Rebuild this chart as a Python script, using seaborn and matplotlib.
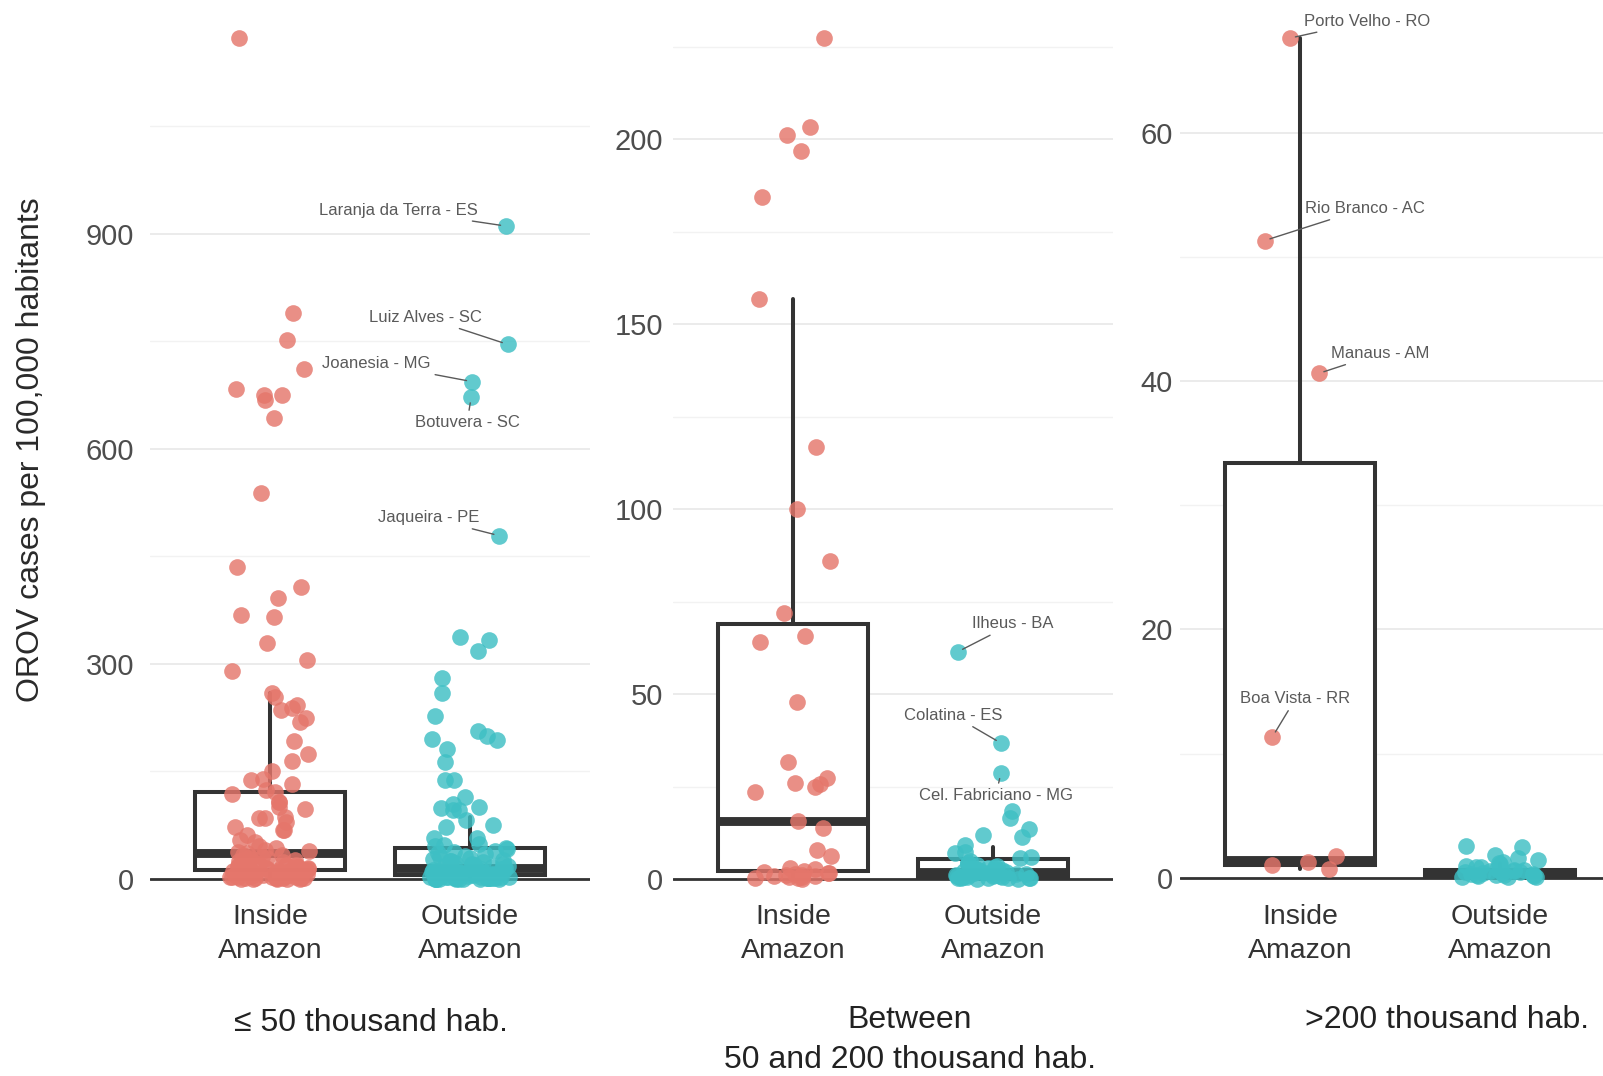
import numpy as np
import pandas as pd
import matplotlib
matplotlib.use("Agg")
import matplotlib.pyplot as plt
import seaborn as sns

sns.set_theme(style="white")
plt.rcParams["font.family"] = ["Liberation Sans", "DejaVu Sans"]

# ---------------------------------------------------------------- data
regions = ["Inside\nAmazon", "Outside\nAmazon"]
size_classes = ["\u2264 50 thousand hab.",
                "Between\n50 and 200 thousand hab.",
                ">200 thousand hab."]

# OROV incidence (cases per 100,000) by municipality
small_inside = [643, 752, 392, 366, 676, 676, 669, 408, 306, 539, 790, 260, 254,
                712, 684, 436, 290, 243, 239, 219, 175, 193, 329, 164, 1174, 236,
                369, 224, 151, 140, 138, 133, 124, 122, 118, 108, 108, 100, 98,
                87, 85, 85, 80, 73, 68, 68, 61, 54, 52,
                46.2, 43.5, 41.0, 38.7, 37.1, 35.6, 33.9, 32.8, 31.2, 29.5, 28.4,
                27.1, 25.6, 24.3, 22.8, 21.9, 20.4, 19.2, 18.6, 17.3, 16.1, 15.4,
                14.2, 13.5, 12.3, 11.8, 10.6, 9.9, 9.1, 8.4, 7.7, 6.9, 6.2, 5.5,
                4.8, 4.3, 3.6, 3.1, 2.5, 2.0, 1.6, 1.1, 0.7, 0.4, 0.0,
                0.2, 0.9, 1.3, 2.3, 2.8, 3.4, 4.1, 5.0, 5.8, 6.5, 7.3, 8.0, 8.8,
                10.2, 11.1, 12.9, 14.7, 16.6, 19.6, 23.1, 26.4, 30.6, 0.1, 0.6, 1.9]
small_outside = [338, 911, 333, 318, 281, 259, 228, 479, 206, 199, 196, 746, 194,
                 181, 163, 138, 138, 694, 115, 105, 101, 99, 96, 96, 82, 75, 72,
                 672, 57, 57,
                 49.5, 47.2, 45.8, 43.1, 41.7, 39.4, 37.9, 36.2, 34.8, 32.5, 31.3,
                 29.7, 28.1, 26.6, 25.2, 23.9, 22.4, 21.3, 19.8, 18.7, 17.5, 16.4,
                 15.1, 14.3, 13.2, 12.6, 11.5, 10.8, 9.7, 9.2, 8.5, 7.8, 7.1, 6.6,
                 5.9, 5.3, 4.7, 4.2, 3.8, 3.3, 2.9, 2.4, 2.1, 1.7, 1.4, 1.1, 0.8,
                 0.5, 0.3, 0.1, 0.0, 0.0,
                 0.2, 0.6, 0.9, 1.3, 1.9, 2.6, 3.1, 3.6, 4.4, 5.1, 5.6, 6.3, 6.9,
                 7.5, 8.2, 8.9, 10.1, 11.2, 12.1, 13.7, 15.6, 17.9, 20.6, 24.5,
                 0.4, 1.6, 2.2, 0.0]
mid_inside = [99.9, 203.3, 196.8, 47.8, 201.1, 65.8, 31.5, 227.2, 86.0, 71.8, 116.7,
              25.9, 15.7, 27.2, 156.7, 64.1, 23.6, 25.6, 24.9, 13.7, 6.2, 7.8, 3.1,
              2.6, 184.4, 2.2, 1.9, 1.7, 1.4, 1.2, 0.9, 0.8, 0.6, 0.4, 0.2,
              0.1, 0.5, 1.0, 1.5]
mid_outside = [11.8, 13.5, 18.4, 28.6, 9.3, 7.2, 61.4, 11.4, 36.7, 16.4, 6.9, 6.0,
               5.8, 4.9, 4.4, 4.1, 3.7, 3.3, 3.0, 2.8, 2.5, 2.2, 2.0, 1.8, 1.6,
               1.4, 1.2, 1.0, 0.9, 0.7, 0.6, 0.5, 0.4, 0.3, 0.2, 0.1,
               0.05, 0.15, 0.25, 0.35, 0.55, 0.8, 1.1, 1.3, 1.5, 1.9, 2.4, 2.7,
               3.5, 4.2]
large_inside = [67.6, 1.75, 40.6, 1.3, 11.35, 1.0, 51.3, 0.7]
large_outside = [2.55, 2.5, 1.83, 1.56, 1.42, 1.29, 1.1, 0.95, 0.85, 0.75, 0.65,
                 0.6, 0.5, 0.45, 0.4, 0.3, 0.25, 0.2, 0.1, 0.05,
                 0.02, 0.08, 0.12, 0.18, 0.22, 0.28, 0.35, 0.42, 0.55, 0.7, 0.9,
                 1.2]

# box summaries: lower whisker, Q1, median, Q3, upper whisker
small_boxes = [[0, 13, 36.5, 122, 259], [0, 6, 16, 43, 87]]
mid_boxes = [[0, 2.2, 15.6, 68.9, 156.7], [0, 0.6, 1.9, 5.3, 8.7]]
large_boxes = [[0.7, 1.0, 1.45, 33.4, 67.6], [0, 0.05, 0.3, 0.65, 1.2]]

small_ticks = [0, 300, 600, 900]
mid_ticks = [0, 50, 100, 150, 200]
large_ticks = [0, 20, 40, 60]

# labelled municipalities: (region index, value, name)
small_labels = [(1, 911, "Laranja da Terra - ES"), (1, 746, "Luiz Alves - SC"),
                (1, 694, "Joanesia - MG"), (1, 672, "Botuvera - SC"),
                (1, 479, "Jaqueira - PE")]
mid_labels = [(1, 61.4, "Ilheus - BA"), (1, 36.7, "Colatina - ES"),
              (1, 28.6, "Cel. Fabriciano - MG")]
large_labels = [(0, 67.6, "Porto Velho - RO"), (0, 51.3, "Rio Branco - AC"),
                (0, 40.6, "Manaus - AM"), (0, 11.35, "Boa Vista - RR")]

# label placement (offset in pixels from the point, horizontal alignment)
small_label_pos = [((-28, 16), "right"), ((-26, 27), "right"), ((-41, 18), "right"),
                   ((-4, -25), "center"), ((-20, 18), "right")]
mid_label_pos = [((14, 28), "left"), ((-48, 28), "center"), ((-5, -22), "center")]
large_label_pos = [((14, 17), "left"), ((40, 32), "left"), ((12, 20), "left"),
                   ((23, 38), "center")]

# ---------------------------------------------------------------- styling
colors = ["#E5766B", "#3EBFC4"]
DARK = "#333333"
W, H = 1603, 1076

fig = plt.figure(figsize=(W / 100, H / 100), dpi=100)
fig.patch.set_facecolor("white")

AX_TOP, AX_BOTTOM = 0, 885


def make_axes(left_px, width_px):
    return fig.add_axes([left_px / W, 1 - AX_BOTTOM / H, width_px / W,
                         (AX_BOTTOM - AX_TOP) / H])


def find_point(ax, xcat, value):
    for coll in ax.collections:
        offs = np.asarray(coll.get_offsets())
        for x, y in offs:
            if abs(x - xcat) < 0.5 and abs(y - value) < 1e-9:
                return x, y
    return xcat, value


def draw_panel(ax, groups, boxes, ticks, scale, zero_px, pad,
               labels, label_pos, seeds):
    # jittered municipalities, one strip per region
    for i, (vals, seed) in enumerate(zip(groups, seeds)):
        df = pd.DataFrame({"region": [regions[i]] * len(vals), "rate": vals})
        np.random.seed(seed)
        sns.stripplot(data=df, x="region", y="rate", order=regions,
                      color=colors[i], jitter=0.2, size=12, alpha=0.82,
                      linewidth=0, ax=ax, zorder=4)
    for coll in ax.collections:
        coll.set_clip_on(False)

    stats = [dict(whislo=b[0], q1=b[1], med=b[2], q3=b[3], whishi=b[4], fliers=[])
             for b in boxes]
    ax.bxp(stats, positions=[0, 1], widths=0.75, showcaps=False, showfliers=False,
           patch_artist=True, manage_ticks=False, zorder=2,
           boxprops=dict(facecolor="white", edgecolor=DARK, linewidth=2.9),
           medianprops=dict(color=DARK, linewidth=6.4, solid_capstyle="butt"),
           whiskerprops=dict(color=DARK, linewidth=2.9))

    ax.axhline(0, color=DARK, lw=2.0, zorder=3)

    top = zero_px / scale
    bottom = -(AX_BOTTOM - zero_px) / scale
    ax.set_ylim(bottom, top)
    ax.set_xlim(-0.6, 1.6)

    step = ticks[1] - ticks[0]
    minors = [t + step / 2 for t in ticks if t + step / 2 < top - step * 0.05]
    ax.set_yticks(ticks)
    ax.set_yticks(minors, minor=True)
    ax.set_yticklabels([str(t) for t in ticks])
    ax.set_xticks([0, 1])
    ax.set_xticklabels(regions)
    for lbl in ax.get_xticklabels():
        lbl.set_linespacing(1.42)
    ax.grid(True, which="major", axis="y", color="#EBEBEB", lw=1.4)
    ax.grid(True, which="minor", axis="y", color="#F2F2F2", lw=1.0)
    ax.grid(False, axis="x")
    ax.set_axisbelow(True)
    for sp in ax.spines.values():
        sp.set_visible(False)
    ax.tick_params(axis="y", which="both", length=0, pad=pad, labelsize=21,
                   labelcolor="#4D4D4D")
    ax.tick_params(axis="x", which="both", length=0, pad=13.5, labelsize=20.5,
                   labelcolor=DARK)
    ax.set_xlabel("")
    ax.set_ylabel("")

    for (ri, val, name), ((dx, dy), ha) in zip(labels, label_pos):
        px, py = find_point(ax, ri, val)
        ax.annotate(name, xy=(px, py), xytext=(dx, dy), textcoords="offset pixels",
                    ha=ha, va="center", fontsize=12, color="#5A5A5A",
                    annotation_clip=False, zorder=5,
                    arrowprops=dict(arrowstyle="-", color="#5A5A5A", lw=1.0,
                                    shrinkA=1, shrinkB=4))


ax1 = make_axes(150, 440)
ax2 = make_axes(673, 440)
ax3 = make_axes(1180, 440)

draw_panel(ax1, [small_inside, small_outside], small_boxes, small_ticks,
           0.7167, 879, 11.5, small_labels, small_label_pos, seeds=(0, 42))
draw_panel(ax2, [mid_inside, mid_outside], mid_boxes, mid_ticks,
           3.70, 879, 7, mid_labels, mid_label_pos, seeds=(0, 42))
draw_panel(ax3, [large_inside, large_outside], large_boxes, large_ticks,
           12.42, 877.7, 5, large_labels, large_label_pos, seeds=(42, 7))

# panel captions and shared y title
fig.text(371 / W, 1 - 1023 / H, size_classes[0], ha="center", va="center",
         fontsize=23, color="#222222")
fig.text(910 / W, 1 - 1040 / H, size_classes[1], ha="center", va="center",
         fontsize=23, color="#222222", linespacing=1.42)
fig.text(1447 / W, 1 - 1020 / H, size_classes[2], ha="center", va="center",
         fontsize=23, color="#222222")
fig.text(31 / W, 1 - 450 / H, "OROV cases per 100,000 habitants", rotation=90,
         ha="center", va="center", fontsize=23, color="#2A2A2A")

fig.savefig("out.png", dpi=100, facecolor="white")
